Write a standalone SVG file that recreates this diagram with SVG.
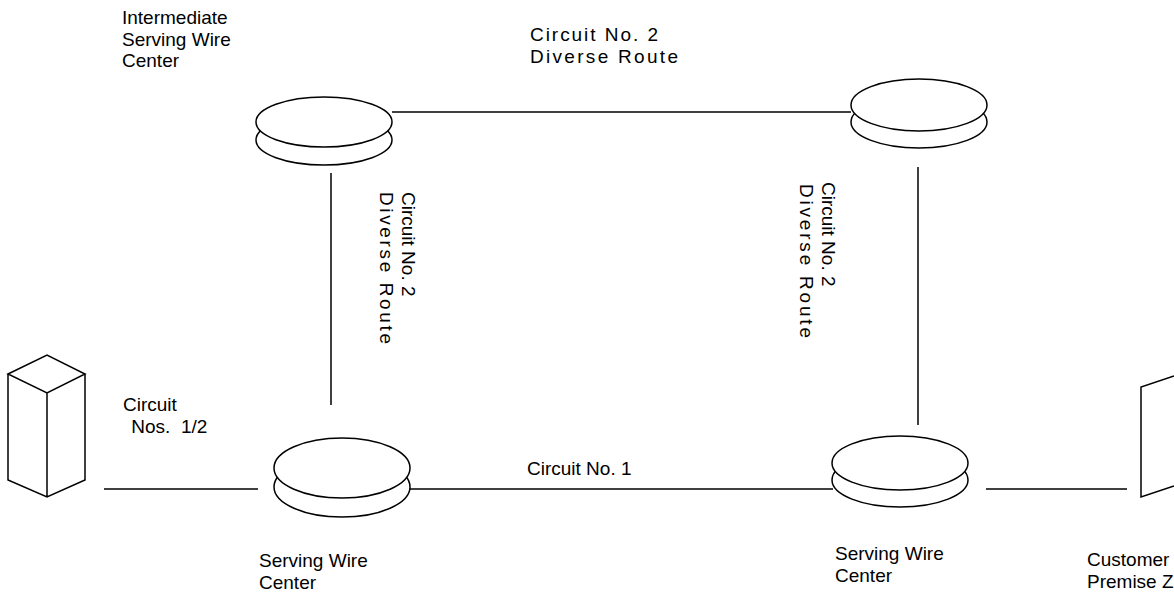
<svg xmlns="http://www.w3.org/2000/svg" width="1174" height="604" viewBox="0 0 1174 604">
<style>
.s{fill:#fff;stroke:#000;stroke-width:1.5}
.l{fill:none;stroke:#000;stroke-width:1.5}
.t{font-family:"Liberation Sans",Arial,sans-serif;font-size:19px;fill:#000}
</style>
<rect width="1174" height="604" fill="#fff"/>
<g id="connectors" class="l">
<line x1="104" y1="489" x2="258" y2="489"/>
<line x1="410" y1="489" x2="833" y2="489"/>
<line x1="986" y1="489" x2="1127" y2="489"/>
<line x1="392" y1="112" x2="851" y2="112"/>
<line x1="331" y1="173" x2="331" y2="405"/>
<line x1="918" y1="167" x2="918" y2="425"/>
</g>
<g id="customer-a">
<path class="l" d="M8 374 L47 355 L85 374 L47 393 Z M8 374 V480 L47 497 L85 480 V374 M47 393 V497"/>
</g>
<g id="customer-z">
<path class="l" d="M1174 376 L1141 387 V497 L1174 486"/>
<text class="t" x="1087" y="566">Customer</text>
<text class="t" x="1087" y="588">Premise Z</text>
</g>
<g id="intermediate-swc">
<ellipse class="s" cx="324" cy="140" rx="68" ry="25"/>
<ellipse class="s" cx="324" cy="122" rx="68" ry="25"/>
<text class="t" x="122" y="24">Intermediate</text>
<text class="t" x="122" y="46">Serving Wire</text>
<text class="t" x="122" y="67">Center</text>
</g>
<g id="top-right-swc">
<ellipse class="s" cx="919" cy="122" rx="68" ry="26"/>
<ellipse class="s" cx="919" cy="105" rx="68" ry="26"/>
</g>
<g id="serving-wire-center-a">
<ellipse class="s" cx="342" cy="487" rx="68" ry="30"/>
<ellipse class="s" cx="342" cy="468" rx="68" ry="30"/>
<text class="t" x="259" y="567">Serving Wire</text>
<text class="t" x="259" y="589">Center</text>
</g>
<g id="serving-wire-center-z">
<ellipse class="s" cx="900" cy="480" rx="68" ry="27"/>
<ellipse class="s" cx="900" cy="463" rx="68" ry="27"/>
<text class="t" x="835" y="560">Serving Wire</text>
<text class="t" x="835" y="582">Center</text>
</g>
<g id="labels">
<text class="t" x="530" y="41" textLength="128" lengthAdjust="spacing">Circuit No. 2</text>
<text class="t" x="530" y="63" textLength="148" lengthAdjust="spacing">Diverse Route</text>
<text class="t" x="123" y="411">Circuit</text>
<text class="t" x="126" y="433" xml:space="preserve"> Nos.  1/2</text>
<text class="t" x="527" y="475">Circuit No. 1</text>
<text class="t" transform="translate(402,192) rotate(90)">Circuit No. 2</text>
<text class="t" transform="translate(380,192) rotate(90)" textLength="152" lengthAdjust="spacing">Diverse Route</text>
<text class="t" transform="translate(822,182) rotate(90)">Circuit No. 2</text>
<text class="t" transform="translate(800,184) rotate(90)" textLength="154" lengthAdjust="spacing">Diverse Route</text>
</g>
</svg>
